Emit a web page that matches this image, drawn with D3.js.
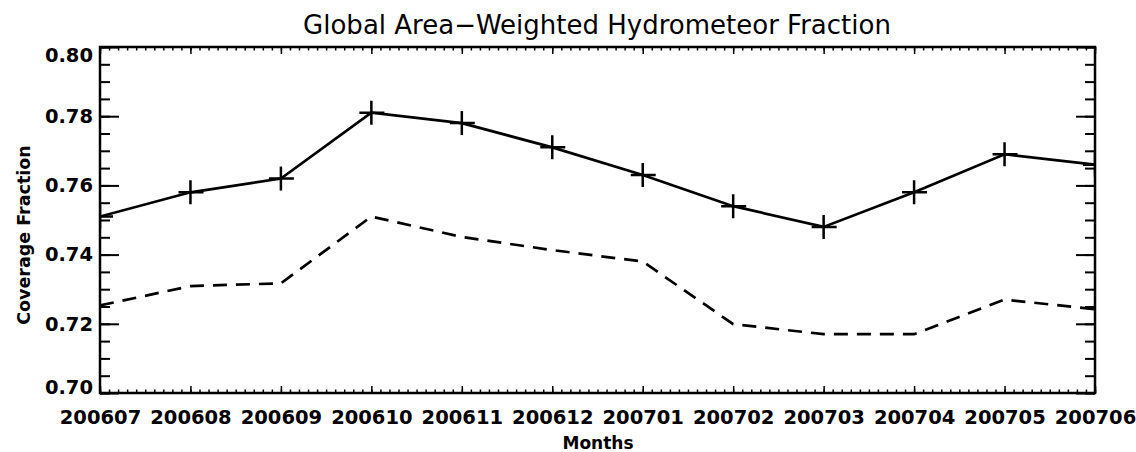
<!DOCTYPE html>
<html>
<head>
<meta charset="utf-8">
<script src="https://cdn.jsdelivr.net/npm/d3@7"></script>
<style>
  body { margin: 0; background: #fff; }
  svg { display: block; }
  .axis path, .axis line { stroke: #000; }
  .axis text { font-family: "DejaVu Sans", sans-serif; font-weight: bold; font-size: 19.5px; fill: #000; }
</style>
</head>
<body>
<div id="chart"></div>
<script>
const months = ["200607", "200608", "200609", "200610", "200611", "200612",
                "200701", "200702", "200703", "200704", "200705", "200706"];
const solidValues = [0.751, 0.758, 0.762, 0.781, 0.778, 0.771, 0.763, 0.754, 0.748, 0.758, 0.769, 0.766];
const dashedValues = [0.7253, 0.7309, 0.7317, 0.751, 0.7451, 0.7413, 0.738, 0.7199, 0.717, 0.717, 0.727, 0.7242];
const yTicks = [0.70, 0.72, 0.74, 0.76, 0.78, 0.80];

const W = 1136, H = 452;
const margin = {top: 47, right: 41, bottom: 59, left: 100};
const width = W - margin.left - margin.right;
const height = H - margin.top - margin.bottom;

const root = d3.select("#chart")
    .append("svg")
    .attr("width", W)
    .attr("height", H);

const svg = root.append("g")
    .attr("transform", `translate(${margin.left},${margin.top})`);

const xScale = d3.scaleLinear().domain([0, months.length - 1]).range([0, width]);
const yScale = d3.scaleLinear().domain([0.70, 0.80]).range([height, 0]);

svg.append("clipPath").attr("id", "plotClip")
    .append("rect").attr("width", width).attr("height", height);

// minor ticks
const xMinor = d3.range(0, months.length - 1 + 0.001, 0.1);
const yMinor = d3.range(0.70, 0.8001, 0.005);

function styleAxis(g, w) {
    g.attr("class", "axis");
    g.select(".domain").remove();
    g.selectAll("line").attr("stroke-width", w);
}

svg.append("g").attr("transform", `translate(0,${height})`)
    .call(d3.axisBottom(xScale).tickValues(xMinor).tickSize(-3.5).tickFormat(""))
    .call(g => styleAxis(g, 1.5));
svg.append("g")
    .call(d3.axisTop(xScale).tickValues(xMinor).tickSize(-3.5).tickFormat(""))
    .call(g => styleAxis(g, 1.5));
svg.append("g")
    .call(d3.axisLeft(yScale).tickValues(yMinor).tickSize(-10).tickFormat(""))
    .call(g => styleAxis(g, 2));
svg.append("g").attr("transform", `translate(${width},0)`)
    .call(d3.axisRight(yScale).tickValues(yMinor).tickSize(-10).tickFormat(""))
    .call(g => styleAxis(g, 2));

// major ticks + labels
svg.append("g").attr("transform", `translate(0,${height})`)
    .call(d3.axisBottom(xScale).tickValues(d3.range(months.length)).tickSize(-7)
        .tickPadding(17).tickFormat(i => months[i]))
    .call(g => styleAxis(g, 1.5));
svg.append("g")
    .call(d3.axisTop(xScale).tickValues(d3.range(months.length)).tickSize(-7).tickFormat(""))
    .call(g => styleAxis(g, 1.5));
svg.append("g")
    .call(d3.axisLeft(yScale).tickValues(yTicks).tickSize(-19).tickPadding(7)
        .tickFormat(d3.format(".2f")))
    .call(g => styleAxis(g, 2))
    .call(g => g.selectAll("text")
        .attr("y", d => d === 0.80 ? 8 : d === 0.70 ? -6 : 0));
svg.append("g").attr("transform", `translate(${width},0)`)
    .call(d3.axisRight(yScale).tickValues(yTicks).tickSize(-19).tickFormat(""))
    .call(g => styleAxis(g, 2));

// frame
svg.append("rect")
    .attr("width", width).attr("height", height)
    .attr("fill", "none").attr("stroke", "#000").attr("stroke-width", 2.5);

const line = d3.line()
    .x((d, i) => xScale(i))
    .y(d => yScale(d));

const plot = svg.append("g").attr("clip-path", "url(#plotClip)");

plot.append("path")
    .datum(dashedValues)
    .attr("fill", "none")
    .attr("stroke", "#000")
    .attr("stroke-width", 2.7)
    .attr("stroke-dasharray", "14,9")
    .attr("d", line);

plot.append("path")
    .datum(solidValues)
    .attr("fill", "none")
    .attr("stroke", "#000")
    .attr("stroke-width", 2.7)
    .attr("d", line);

const arm = 12;
plot.selectAll(".plus")
    .data(solidValues)
    .enter()
    .append("path")
    .attr("class", "plus")
    .attr("fill", "none")
    .attr("stroke", "#000")
    .attr("stroke-width", 2.5)
    .attr("d", (d, i) => {
        const cx = xScale(i), cy = yScale(d);
        return `M${cx - arm},${cy}H${cx + arm + 1}M${cx},${cy - arm}V${cy + arm}`;
    });

// titles
root.append("text")
    .attr("x", 597).attr("y", 34)
    .attr("text-anchor", "middle")
    .style("font-family", "'DejaVu Sans', sans-serif")
    .style("font-size", "26px")
    .text("Global Area\u2212Weighted Hydrometeor Fraction");

root.append("text")
    .attr("x", 598).attr("y", 449)
    .attr("text-anchor", "middle")
    .style("font-family", "'DejaVu Sans', sans-serif")
    .style("font-weight", "bold")
    .style("font-size", "17px")
    .text("Months");

root.append("text")
    .attr("transform", "translate(30,235) rotate(-90)")
    .attr("text-anchor", "middle")
    .style("font-family", "'DejaVu Sans', sans-serif")
    .style("font-weight", "bold")
    .style("font-size", "17.5px")
    .text("Coverage Fraction");
</script>
</body>
</html>
